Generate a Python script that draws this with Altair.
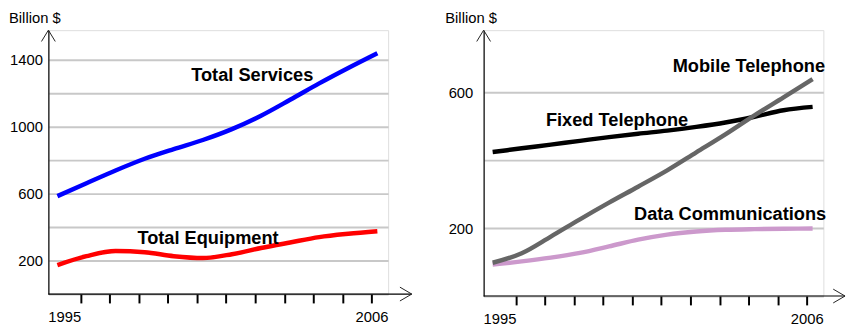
import altair as alt
import pandas as pd

# ---------------- data ----------------
years = list(range(1995, 2007))

total_services = [585, 662, 738, 808, 866, 920, 985, 1065, 1160, 1258, 1350, 1438]
total_equipment = [173, 226, 257, 250, 226, 215, 238, 275, 308, 340, 360, 375]

fixed_telephone = [424, 435, 446, 457, 468, 478, 487, 498, 511, 528, 547, 557]
data_communications = [93, 102, 113, 127, 146, 166, 181, 190, 195, 197, 198, 199]
mobile_telephone = [98, 126, 175, 226, 275, 322, 370, 423, 476, 532, 585, 639]

left_names = ["Total Services", "Total Equipment"]
left_colors = ["#0000ff", "#ff0000"]
right_names = ["Fixed Telephone", "Data Communications", "Mobile Telephone"]
right_colors = ["#000000", "#cc99cc", "#666666"]

# series label anchors (year, value)
left_label_text = ["Total Services", "Total Equipment"]
left_label_year = [1999.6, 1997.75]
left_label_value = [1272, 301]
right_label_text = ["Mobile Telephone", "Fixed Telephone", "Data Communications"]
right_label_year = [2001.19, 1996.83, 1999.86]
right_label_value = [661, 501, 223]

left_y_ticks = [0, 200, 400, 600, 800, 1000, 1200, 1400]
right_y_ticks = [0, 200, 400, 600]
tick_years = [y + 0.8 for y in range(1995, 2006)]

FONT = "Liberation Sans, Arial, Helvetica, sans-serif"
W = 345
XDOM = [1994.69, 2006.37]


def long_df(names, arrays):
    rows = []
    for n, arr in zip(names, arrays):
        for yr, v in zip(years, arr):
            rows.append({"series": n, "year": yr, "value": v})
    return pd.DataFrame(rows)


def panel(df, names, colors, ydomain, yvalues, H, lab_text, lab_year, lab_value,
          ylabel_pad, title_dx, arrow_ext):
    x_axis = alt.Axis(
        values=tick_years, domain=False, grid=False, ticks=True, tickSize=9,
        tickWidth=2, tickColor="black",
        labelExpr="datum.value < 1996 ? '1995' : (datum.value > 2005 ? '2006' : '')",
        labelAlign={"condition": {"test": "datum.value < 1996", "value": "right"},
                    "value": "center"},
        labelFontSize=15, labelFont=FONT, labelColor="black", labelPadding=7,
        labelFlush=False, labelOverlap=False, title=None)
    y_axis = alt.Axis(
        values=yvalues, format="d", domain=True, domainColor="black", domainWidth=1.2,
        ticks=False, tickSize=0, grid=True, gridColor="#c8c8c8", gridWidth=2,
        labelExpr="(datum.value / 200) % 2 == 1 ? datum.label : ''",
        labelFontSize=15, labelFont=FONT, labelColor="black",
        labelPadding=ylabel_pad, labelFlush=False, labelOverlap=False, title=None)
    x = alt.X("year:Q", scale=alt.Scale(domain=XDOM, nice=False, zero=False), axis=x_axis)
    y = alt.Y("value:Q", scale=alt.Scale(domain=ydomain, nice=False, zero=False), axis=y_axis)

    lines = alt.Chart(df).mark_line(strokeWidth=4.5, interpolate="monotone",
                                    strokeCap="butt").encode(
        x=x, y=y,
        color=alt.Color("series:N", scale=alt.Scale(domain=names, range=colors), legend=None),
        detail="series:N",
    )
    labels_df = pd.DataFrame({"label": lab_text, "year": lab_year, "value": lab_value})
    labels = alt.Chart(labels_df).mark_text(
        align="left", baseline="alphabetic", font=FONT, fontSize=18.5,
        fontWeight="bold", color="black").encode(x=x, y=y, text="label:N")

    one = pd.DataFrame({"a": [1]})
    title = alt.Chart(one).mark_text(
        text="Billion $", align="left", baseline="alphabetic", font=FONT,
        fontSize=15, color="black").encode(x=alt.value(title_dx), y=alt.value(-7))
    xrule = alt.Chart(one).mark_rule(color="black", strokeWidth=1.2).encode(
        x=alt.value(0), x2=alt.value(W + arrow_ext), y=alt.value(H))
    xarrow = alt.Chart(one).mark_point(
        shape="M-2.4,-1.4L0,0L-2.4,1.4", filled=False, size=100, color="#222222",
        strokeWidth=1, opacity=1).encode(x=alt.value(W + arrow_ext), y=alt.value(H))
    yarrow = alt.Chart(one).mark_point(
        shape="M-1.4,2.3L0,0L1.4,2.3", filled=False, size=100, color="#222222",
        strokeWidth=1, opacity=1).encode(x=alt.value(0), y=alt.value(0))

    return alt.layer(lines, labels, title, xrule, xarrow, yarrow).properties(width=W, height=H)


left = panel(long_df(left_names, [total_services, total_equipment]),
             left_names, left_colors, [0, 1576], left_y_ticks, 268,
             left_label_text, left_label_year, left_label_value,
             6, -40, 24)
right = panel(long_df(right_names, [fixed_telephone, data_communications, mobile_telephone]),
              right_names, right_colors, [0, 783], right_y_ticks, 270,
              right_label_text, right_label_year, right_label_value,
              11, -39, 22)

chart = alt.hconcat(left, right, spacing=30).resolve_scale(
    color="independent").properties(padding=0).configure_view(
    stroke=None).configure(background="white")

chart.save("out.html", embed_options={"renderer": "svg", "actions": False})
